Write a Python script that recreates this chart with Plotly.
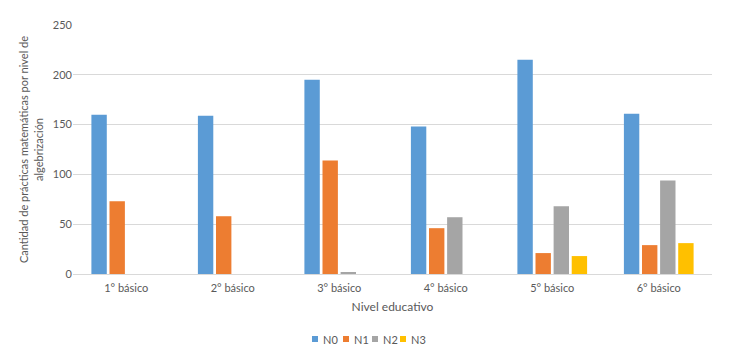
import plotly.graph_objects as go

categories = ["1° básico", "2° básico", "3° básico", "4° básico", "5° básico", "6° básico"]
series_names = ["N0", "N1", "N2", "N3"]
n0 = [160, 159, 195, 148, 215, 161]
n1 = [73, 58, 114, 46, 21, 29]
n2 = [0, 0, 2, 57, 68, 94]
n3 = [0, 0, 0, 0, 18, 31]
colors = ["#5B9BD5", "#ED7D31", "#A5A5A5", "#FFC000"]
y_ticks = [0, 50, 100, 150, 200, 250]

W, H = 734, 356
ML, MR, MT, MB = 73, 22, 25, 82
PW, PH = W - ML - MR, H - MT - MB

fig = go.Figure()
for name, vals, col in zip(series_names, [n0, n1, n2, n3], colors):
    fig.add_trace(go.Bar(x=categories, y=vals, name=name, marker_color=col,
                         marker_line_width=0, showlegend=False))

# compact Excel-style legend: small swatch + label
legend_x_px = [312, 343, 372, 400]
legend_y_px = 339
shapes, annotations = [], []
for name, col, lx in zip(series_names, colors, legend_x_px):
    x0 = (lx - ML) / PW
    x1 = (lx + 6 - ML) / PW
    yc = (H - MB - legend_y_px) / PH
    hs = 3 / PH
    shapes.append(dict(type="rect", xref="paper", yref="paper", x0=x0, x1=x1,
                       y0=yc - hs, y1=yc + hs, fillcolor=col, line_width=0))
    annotations.append(dict(xref="paper", yref="paper", x=(lx + 9 - ML) / PW, y=yc,
                            xanchor="left", yanchor="middle", showarrow=False, text=name,
                            font=dict(size=11, color="#595959")))

font_family = "Lato, Open Sans, sans-serif"
fig.update_layout(
    width=W, height=H,
    margin=dict(l=ML, r=MR, t=MT, b=MB),
    paper_bgcolor="white", plot_bgcolor="white",
    barmode="group", bargap=0.32, bargroupgap=0.15,
    font=dict(family=font_family, size=11, color="#595959"),
    showlegend=False, hovermode=False,
    shapes=shapes, annotations=annotations,
    xaxis=dict(showgrid=False, showline=True, linecolor="#D9D9D9", linewidth=1,
               ticks="", tickfont=dict(size=11, color="#595959"), automargin=False,
               ticklabelstandoff=4,
               title=dict(text="Nivel educativo", font=dict(size=12, color="#595959"), standoff=9)),
    yaxis=dict(range=[0, 250], tickvals=y_ticks, showgrid=True, gridcolor="#D9D9D9",
               zeroline=False, showline=False, ticks="", automargin=False,
               tickfont=dict(size=11, color="#595959"),
               title=dict(text="Cantidad de prácticas matemáticas por nivel de<br>algebrización",
                          font=dict(size=11, color="#595959"), standoff=7)),
)
fig.write_html("out.html", config={"displayModeBar": False},
               post_script="document.body.style.margin='0';")
